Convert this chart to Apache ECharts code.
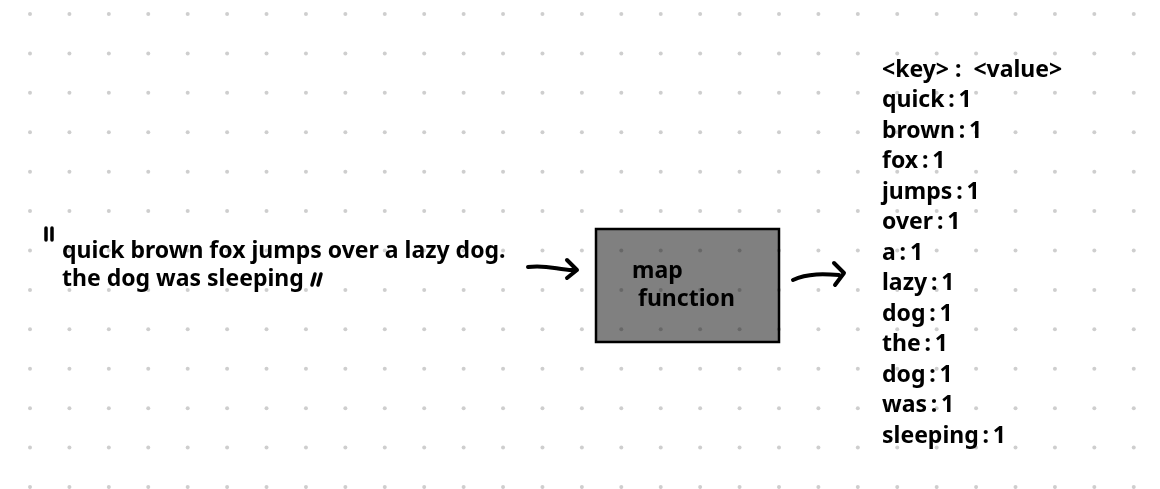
<!DOCTYPE html>
<html>
<head>
<meta charset="utf-8">
<script src="https://cdn.jsdelivr.net/npm/echarts@6/dist/echarts.min.js"></script>
<style>
html, body { margin: 0; padding: 0; background: #fff; }
#main { width: 1160px; height: 489px; }
</style>
</head>
<body>
<div id="main"></div>
<script>
// the sentence that goes into the map function
var inputLines = ['quick brown fox jumps over a lazy dog.', 'the dog was sleeping'];
var boxLines = ['map', ' function'];
// emitted pairs
var headerLine = '<key> :  <value>';
var keys = ['quick', 'brown', 'fox', 'jumps', 'over', 'a', 'lazy', 'dog', 'the', 'dog', 'was', 'sleeping'];
var values = [1, 1, 1, 1, 1, 1, 1, 1, 1, 1, 1, 1];

// dot paper background
var dotCols = 29, dotRows = 13, dotStep = 39.42, dotX0 = 30, dotY0 = 14;
var dots = [];
for (var c = 0; c < dotCols; c++) {
	for (var r = 0; r < dotRows; r++) {
		dots.push([dotX0 + c * dotStep, dotY0 + r * dotStep]);
	}
}

var font = 'Noto Sans';
var fontSize = 23;

var texts = [];
texts.push({ x: 62, y: 251, text: inputLines[0] });
texts.push({ x: 62, y: 279, text: inputLines[1] });
texts.push({ x: 632, y: 271, text: boxLines[0] });
texts.push({ x: 632, y: 299, text: boxLines[1] });
texts.push({ x: 882, y: 70, text: headerLine });
for (var i = 0; i < keys.length; i++) {
	texts.push({ x: 882, y: 100.5 + i * 30.5, text: keys[i] + '\u2009:\u2009' + values[i] });
}

var myChart = echarts.init(document.getElementById('main'));
var option = {
	animation: false,
	backgroundColor: '#fff',
	grid: { left: 0, right: 0, top: 0, bottom: 0 },
	xAxis: { type: 'value', min: 0, max: 1160, show: false },
	yAxis: { type: 'value', min: 0, max: 489, inverse: true, show: false },
	series: [{
		// the grey box
		type: 'custom',
		z: 1,
		data: [[596, 229, 779, 342]],
		renderItem: function(params, api) {
			var p1 = api.coord([api.value(0), api.value(1)]);
			var p2 = api.coord([api.value(2), api.value(3)]);
			return {
				type: 'rect',
				shape: { x: p1[0], y: p1[1], width: p2[0] - p1[0], height: p2[1] - p1[1] },
				style: { fill: '#808080', stroke: '#000', lineWidth: 2.5 }
			};
		}
	}, {
		type: 'scatter',
		z: 2,
		symbolSize: 4,
		itemStyle: { color: 'rgba(0,0,0,0.24)' },
		silent: true,
		data: dots
	}, {
		// hand drawn arrows
		type: 'custom',
		z: 3,
		data: [
			[528, 267, 548, 264, 560, 271, 575, 270, 567, 260, 577, 270, 567, 278],
			[793, 280, 808, 273, 825, 274, 839, 275, 834, 263, 844, 273, 835, 285]
		],
		renderItem: function(params, api) {
			var pt = function(k) { return api.coord([api.value(k), api.value(k + 1)]); };
			var a = pt(0), b = pt(2), c = pt(4), d = pt(6);
			var h1 = pt(8), h2 = pt(10), h3 = pt(12);
			var st = { stroke: '#000', lineWidth: 4, fill: null, lineCap: 'round', lineJoin: 'round' };
			return {
				type: 'group',
				children: [{
					type: 'bezierCurve',
					shape: { x1: a[0], y1: a[1], cpx1: b[0], cpy1: b[1], cpx2: c[0], cpy2: c[1], x2: d[0], y2: d[1] },
					style: st
				}, {
					type: 'polyline',
					shape: { points: [h1, h2, h3] },
					style: st
				}]
			};
		}
	}, {
		// quote marks
		type: 'custom',
		z: 3,
		data: [[46, 228, 46, 240], [52, 228, 52, 240], [315, 274, 312, 285], [321, 274, 318, 285]],
		renderItem: function(params, api) {
			var p1 = api.coord([api.value(0), api.value(1)]);
			var p2 = api.coord([api.value(2), api.value(3)]);
			return {
				type: 'line',
				shape: { x1: p1[0], y1: p1[1], x2: p2[0], y2: p2[1] },
				style: { stroke: '#000', lineWidth: 3.5, lineCap: 'round' }
			};
		}
	}, {
		type: 'custom',
		z: 4,
		data: texts.map(function(t) { return [t.x, t.y, t.text]; }),
		renderItem: function(params, api) {
			var p = api.coord([api.value(0), api.value(1)]);
			return {
				type: 'text',
				x: p[0],
				y: p[1],
				style: {
					text: texts[params.dataIndex].text,
					fill: '#000',
					font: 'bold ' + fontSize + 'px "' + font + '"',
					align: 'left',
					verticalAlign: 'middle'
				}
			};
		}
	}]
};
myChart.setOption(option);
</script>
</body>
</html>
